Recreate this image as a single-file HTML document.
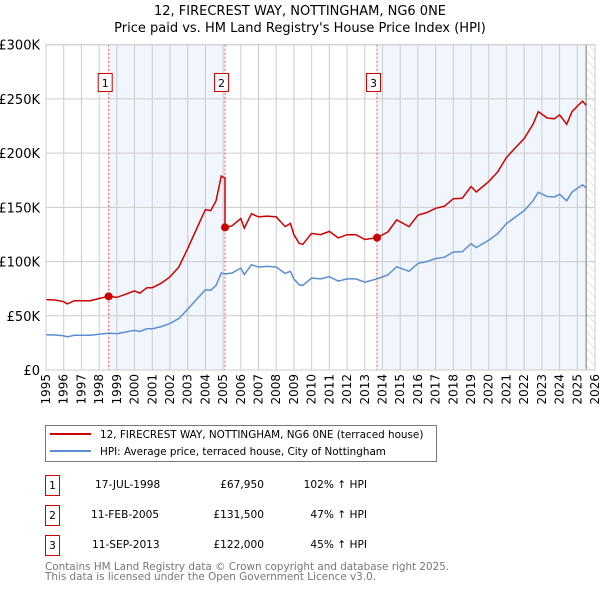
<!DOCTYPE html>
<html><head><meta charset="utf-8"><style>
body{margin:0;background:#fff;font-family:"DejaVu Sans","Liberation Sans",sans-serif;}
svg text{font-family:"DejaVu Sans","Liberation Sans",sans-serif;}
</style></head><body>
<svg id="chart" width="600" height="590" viewBox="0 0 600 590" xmlns="http://www.w3.org/2000/svg">
<defs><pattern id="hatch" width="6" height="6" patternUnits="userSpaceOnUse" patternTransform="rotate(-45)"><line x1="0" y1="0" x2="0" y2="6" stroke="#ccc" stroke-width="1"/></pattern></defs>
<text x="300" y="15" text-anchor="middle" font-size="13">12, FIRECREST WAY, NOTTINGHAM, NG6 0NE</text>
<text x="300" y="32" text-anchor="middle" font-size="13">Price paid vs. HM Land Registry's House Price Index (HPI)</text>
<g id="plot"></g>
<g>
<rect x="45.5" y="425.5" width="391" height="36" fill="#fff" stroke="#777"/>
<line x1="50" y1="434" x2="91" y2="434" stroke="#cc0000" stroke-width="2"/>
<text x="100" y="438" font-size="10.4">12, FIRECREST WAY, NOTTINGHAM, NG6 0NE (terraced house)</text>
<line x1="50" y1="451" x2="91" y2="451" stroke="#5b8fd0" stroke-width="2"/>
<text x="100" y="455" font-size="10.4">HPI: Average price, terraced house, City of Nottingham</text>
</g>
<g font-size="10.6">
<rect x="45.5" y="475.5" width="14" height="20" fill="none" stroke="#cc0000"/><text x="52.5" y="489" text-anchor="middle">1</text>
<text x="95" y="488">17-JUL-1998</text><text x="264" y="488" text-anchor="end">£67,950</text><text x="367" y="488" text-anchor="end">102% ↑ HPI</text>
<rect x="45.5" y="505.5" width="14" height="20" fill="none" stroke="#cc0000"/><text x="52.5" y="519" text-anchor="middle">2</text>
<text x="91" y="518">11-FEB-2005</text><text x="264" y="518" text-anchor="end">£131,500</text><text x="367" y="518" text-anchor="end">47% ↑ HPI</text>
<rect x="45.5" y="535.5" width="14" height="20" fill="none" stroke="#cc0000"/><text x="52.5" y="549" text-anchor="middle">3</text>
<text x="92" y="548">11-SEP-2013</text><text x="264" y="548" text-anchor="end">£122,000</text><text x="367" y="548" text-anchor="end">45% ↑ HPI</text>
</g>
<text x="45" y="570" font-size="10.4" fill="#777">Contains HM Land Registry data © Crown copyright and database right 2025.</text>
<text x="45" y="580" font-size="10.4" fill="#777">This data is licensed under the Open Government Licence v3.0.</text>
</svg>
<script>
const hpiYears=[1995,1995.5,1996,1996.2,1996.6,1997,1997.5,1998,1998.54,1999,1999.5,2000,2000.3,2000.7,2001,2001.5,2002,2002.5,2003,2003.5,2004,2004.3,2004.6,2004.9,2005.11,2005.5,2006,2006.2,2006.6,2007,2007.5,2008,2008.5,2008.8,2009,2009.3,2009.5,2010,2010.5,2011,2011.5,2012,2012.5,2013,2013.69,2014.3,2014.8,2015.5,2016,2016.5,2017,2017.5,2018,2018.5,2019,2019.3,2020,2020.5,2021,2021.5,2022,2022.5,2022.8,2023.3,2023.7,2024,2024.4,2024.7,2025,2025.3,2025.5];
const hpiValues=[32.5,32.3,31.5,30.5,32,32,32,33,34,33.5,35,36.5,35.5,38,38,40,43,47.5,56,65,74,73.5,78,89.5,88.5,89.5,94,88,97,95,95.5,95,89,91,84,78.6,78,84.8,84,86,82,84,84,81,84,87.6,95.3,91,98.3,100,102.7,104,108.8,109,116.5,113,119.6,125.7,135,141,147,156,164,160,159.5,162,156,164,167.6,170.7,168];
const saleYears=[1998.54,2005.11,2013.69];
const salePrices=[67.95,131.5,122];
const saleLabels=["1","2","3"];
const yTicks=[0,50,100,150,200,250,300];
const yTickLabels=["£0","£50K","£100K","£150K","£200K","£250K","£300K"];
const xTicks=[1995,1996,1997,1998,1999,2000,2001,2002,2003,2004,2005,2006,2007,2008,2009,2010,2011,2012,2013,2014,2015,2016,2017,2018,2019,2020,2021,2022,2023,2024,2025,2026];
const dataEnd=2025.5;
const X0=46,X1=595,Y0=370,Y1=44.7;
const xs=y=>X0+(y-1995)/(2026-1995)*(X1-X0);
const ys=v=>Y0-v/300*(Y0-Y1);
const NS="http://www.w3.org/2000/svg";
const g=document.getElementById('plot');
function mk(t,a){const e=document.createElementNS(NS,t);for(const k in a)e.setAttribute(k,a[k]);g.appendChild(e);return e;}
let e;
e=mk('rect',{x:xs(saleYears[0]),y:Y1,width:xs(saleYears[1])-xs(saleYears[0]),height:Y0-Y1,fill:'#eef3fc',opacity:0.8});


e=mk('rect',{x:xs(saleYears[2]),y:Y1,width:xs(dataEnd)-xs(saleYears[2]),height:Y0-Y1,fill:'#eef3fc',opacity:0.8});


e=mk('rect',{x:xs(dataEnd),y:Y1,width:X1-xs(dataEnd),height:Y0-Y1,fill:'url(#hatch)'});


xTicks.forEach(t=>{
 e=mk('line',{x1:xs(t),x2:xs(t),y1:Y1,y2:Y0,stroke:'#ccc','stroke-width':1});
 
 
 e=mk('text',{x:xs(t)+4,y:Y0+4,'font-size':12,'text-anchor':'end',transform:`rotate(-90 ${xs(t)+4} ${Y0+4})`});
 e.textContent=t;
 
 
});
yTicks.forEach((t,i)=>{
 e=mk('line',{x1:X0,x2:X1,y1:ys(t),y2:ys(t),stroke:'#ccc','stroke-width':1});
 
 
 e=mk('text',{x:X0-6,y:ys(t)+5,'font-size':13,'text-anchor':'end'});
 e.textContent=yTickLabels[i];
 
 
});
e=mk('line',{x1:xs(dataEnd),x2:xs(dataEnd),y1:Y1,y2:Y0,stroke:'#777','stroke-width':1});


saleYears.forEach((s,i)=>{
 e=mk('line',{x1:xs(s),x2:xs(s),y1:Y1,y2:Y0,stroke:'#e55','stroke-width':1,'stroke-dasharray':'2,2'});
 
 
 e=mk('rect',{x:xs(s)-10.5,y:73.5,width:14,height:18,fill:'#fff',stroke:'#cc0000'});
 
 
 e=mk('text',{x:xs(s)-3.5,y:87,'font-size':11,'text-anchor':'middle'});
 e.textContent=saleLabels[i];
 
 
});
function hpiAt(y){for(let i=0;i<hpiYears.length-1;i++){if(y>=hpiYears[i]&&y<=hpiYears[i+1]){const f=(y-hpiYears[i])/(hpiYears[i+1]-hpiYears[i]);return hpiValues[i]+f*(hpiValues[i+1]-hpiValues[i]);}}return hpiValues[hpiValues.length-1];}
const factors=[salePrices[0]/hpiAt(saleYears[0]),salePrices[0]/hpiAt(saleYears[0]),salePrices[1]/hpiAt(saleYears[1]),salePrices[2]/hpiAt(saleYears[2])];
function fac(y){if(y<=saleYears[0])return factors[0];if(y<saleYears[1])return factors[1];if(y<saleYears[2])return factors[2];return factors[3];}
let bp='',rp='';
hpiYears.forEach((y,i)=>{bp+=(i?'L':'M')+xs(y).toFixed(1)+','+ys(hpiValues[i]).toFixed(1);
 if(y===saleYears[1]){rp+='L'+xs(y).toFixed(1)+','+ys(hpiValues[i]*factors[1]).toFixed(1);}
 rp+=(i?'L':'M')+xs(y).toFixed(1)+','+ys(hpiValues[i]*fac(y)).toFixed(1);});
e=mk('path',{d:bp,fill:'none',stroke:'#5b8fd0','stroke-width':1.5});


e=mk('path',{d:rp,fill:'none',stroke:'#cc0000','stroke-width':1.5});


saleYears.forEach((s,i)=>{
 e=mk('circle',{cx:xs(s),cy:ys(salePrices[i]),r:4,fill:'#cc0000'});
 
 
});
e=mk('rect',{x:X0,y:Y1,width:X1-X0,height:Y0-Y1,fill:'none',stroke:'#ccc'});


</script>
</body></html>
